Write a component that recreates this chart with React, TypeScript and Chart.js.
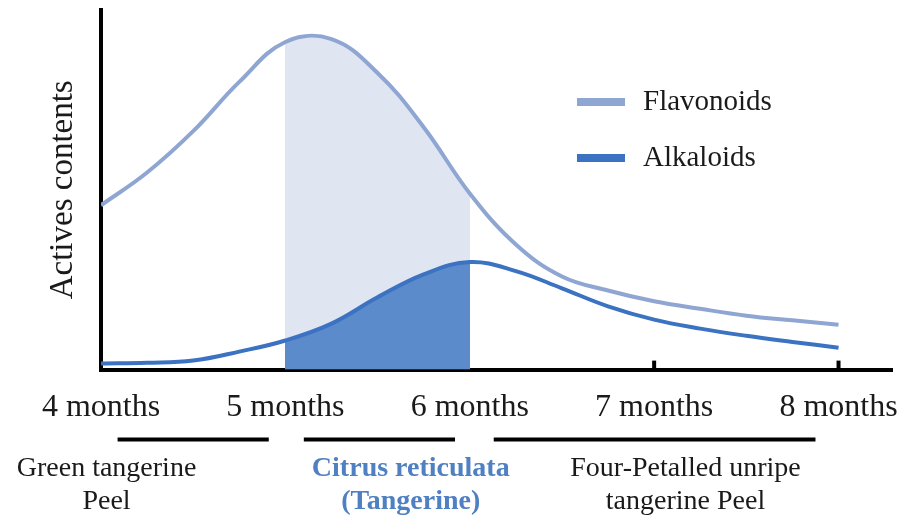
import { useEffect, useRef } from "react";
import { Chart, registerables } from "chart.js";

Chart.register(...registerables);

// Harvest age (months) and relative active-compound contents
const months = [4, 4.25, 4.5, 4.75, 5, 5.25, 5.5, 5.75, 6, 6.25, 6.5, 6.75, 7, 7.25, 7.5, 7.75, 8];
const flavonoidValues = [45.7, 54.8, 66.3, 80.0, 91.1, 91.9, 82.5, 67.4, 49.0, 34.8, 25.9, 22.0, 19.0, 16.9, 15.0, 13.7, 12.5];
const alkaloidValues = [1.7, 1.9, 2.5, 5.0, 8.1, 12.8, 20.1, 26.5, 29.9, 27.4, 22.6, 17.6, 13.9, 11.4, 9.4, 7.7, 6.1];

const monthTicks = [4, 5, 6, 7, 8];
const markedTicks = [7, 8];

// Harvest window highlighted under both curves
const bandStart = 5;
const bandEnd = 6;

const seriesNames = ["Flavonoids", "Alkaloids"];

// Product names under the month axis: [from, to] spans and label lines
const stageSpans: [number, number][] = [
  [4.09, 4.91],
  [5.1, 5.92],
  [6.13, 7.875],
];
const stageCenters = [4.03, 5.68, 7.17];
const stageLabels: string[][] = [
  ["Green tangerine", "Peel"],
  ["Citrus reticulata", "(Tangerine)"],
  ["Four-Petalled unripe", "tangerine Peel"],
];
const highlightedStage = 1;

const FLAV_LINE = "#8fa6d2";
const FLAV_FILL = "#dfe6f2";
const ALK_LINE = "#3b72c2";
const ALK_FILL = "#5b8bcb";
const INK = "#1a1a1a";
const SERIF = "'Liberation Serif', 'Times New Roman', serif";

function bandFill(color: string) {
  return (ctx: any) => {
    const chart = ctx.chart;
    const area = chart.chartArea;
    const xs = chart.scales && chart.scales.x;
    if (!area || !xs) return "rgba(0,0,0,0)";
    const w = area.right - area.left;
    const a = Math.min(Math.max((xs.getPixelForValue(bandStart) - area.left) / w, 0), 1);
    const b = Math.min(Math.max((xs.getPixelForValue(bandEnd) - area.left) / w, 0), 1);
    const g = chart.ctx.createLinearGradient(area.left, 0, area.right, 0);
    const clear = "rgba(255,255,255,0)";
    g.addColorStop(0, clear);
    g.addColorStop(a, clear);
    g.addColorStop(a, color);
    g.addColorStop(b, color);
    g.addColorStop(b, clear);
    g.addColorStop(1, clear);
    return g;
  };
}

const decorPlugin = {
  id: "decor",
  afterDraw(chart: any) {
    const { ctx, chartArea, scales } = chart;
    const xs = scales.x;
    const bottom = chartArea.bottom;
    ctx.save();

    // small upward tick marks on the month axis
    ctx.strokeStyle = "#000";
    ctx.lineWidth = 4;
    markedTicks.forEach((m) => {
      const x = xs.getPixelForValue(m);
      ctx.beginPath();
      ctx.moveTo(x, bottom);
      ctx.lineTo(x, bottom - 9);
      ctx.stroke();
    });

    // legend
    const legendColors = [FLAV_LINE, ALK_LINE];
    const legendY = [102, 158];
    seriesNames.forEach((name, i) => {
      ctx.fillStyle = legendColors[i];
      ctx.fillRect(577, legendY[i] - 4, 48, 8);
      ctx.fillStyle = INK;
      ctx.font = `29px ${SERIF}`;
      ctx.textAlign = "left";
      ctx.textBaseline = "middle";
      ctx.fillText(name, 643, legendY[i]);
    });

    // product stages below the axis
    ctx.strokeStyle = "#000";
    ctx.lineWidth = 4;
    stageSpans.forEach(([a, b]) => {
      ctx.beginPath();
      ctx.moveTo(xs.getPixelForValue(a), bottom + 70);
      ctx.lineTo(xs.getPixelForValue(b), bottom + 70);
      ctx.stroke();
    });
    stageLabels.forEach((lines, i) => {
      const x = xs.getPixelForValue(stageCenters[i]);
      const hl = i === highlightedStage;
      ctx.font = `${hl ? "bold " : ""}28px ${SERIF}`;
      ctx.fillStyle = hl ? "#4f80c2" : INK;
      ctx.textAlign = "center";
      ctx.textBaseline = "middle";
      lines.forEach((t, j) => ctx.fillText(t, x, bottom + 99 + j * 33));
    });
    ctx.restore();
  },
};

export default function App() {
  const canvasRef = useRef<HTMLCanvasElement | null>(null);

  useEffect(() => {
    const canvas = canvasRef.current;
    if (!canvas) return;
    const chart = new Chart(canvas, {
      type: "line",
      data: {
        datasets: [
          {
            label: seriesNames[0],
            data: months.map((m, i) => ({ x: m, y: flavonoidValues[i] })),
            borderColor: FLAV_LINE,
            borderWidth: 4,
            backgroundColor: bandFill(FLAV_FILL),
            fill: "origin",
            pointRadius: 0,
            tension: 0.4,
            order: 2,
          },
          {
            label: seriesNames[1],
            data: months.map((m, i) => ({ x: m, y: alkaloidValues[i] })),
            borderColor: ALK_LINE,
            borderWidth: 4,
            backgroundColor: bandFill(ALK_FILL),
            fill: "origin",
            pointRadius: 0,
            tension: 0.4,
            order: 1,
          },
        ],
      },
      options: {
        responsive: false,
        animation: false,
        events: [],
        layout: { padding: { top: 10, right: 14, bottom: 75, left: 0 } },
        plugins: {
          legend: { display: false },
          tooltip: { enabled: false },
        },
        scales: {
          x: {
            type: "linear",
            min: 4,
            max: 8.29,
            grid: { display: false, drawTicks: false },
            border: { display: true, color: "#000", width: 4 },
            afterBuildTicks: (scale: any) => {
              scale.ticks = monthTicks.map((v) => ({ value: v }));
            },
            afterFit: (scale: any) => {
              // labels may overhang the plot edges; keep the plot width fixed
              scale.paddingLeft = 0;
              scale.paddingRight = 0;
            },
            ticks: {
              autoSkip: false,
              maxRotation: 0,
              padding: 19,
              color: INK,
              font: { family: SERIF, size: 32, lineHeight: 1.2 },
              callback: (v: any) => `${v} months`,
            },
          },
          y: {
            min: 0,
            max: 100,
            grid: { display: false, drawTicks: false },
            border: { display: true, color: "#000", width: 4 },
            ticks: { display: false },
            title: {
              display: true,
              text: "Actives contents",
              color: INK,
              font: { family: SERIF, size: 33, lineHeight: 1 },
              padding: { top: 47, bottom: 21 },
            },
          },
        },
      },
      plugins: [decorPlugin],
    });
    return () => chart.destroy();
  }, []);

  return (
    <div style={{ position: "absolute", left: 0, top: 0, width: 906, height: 521, background: "#fff" }}>
      <canvas ref={canvasRef} width={906} height={521} />
    </div>
  );
}
